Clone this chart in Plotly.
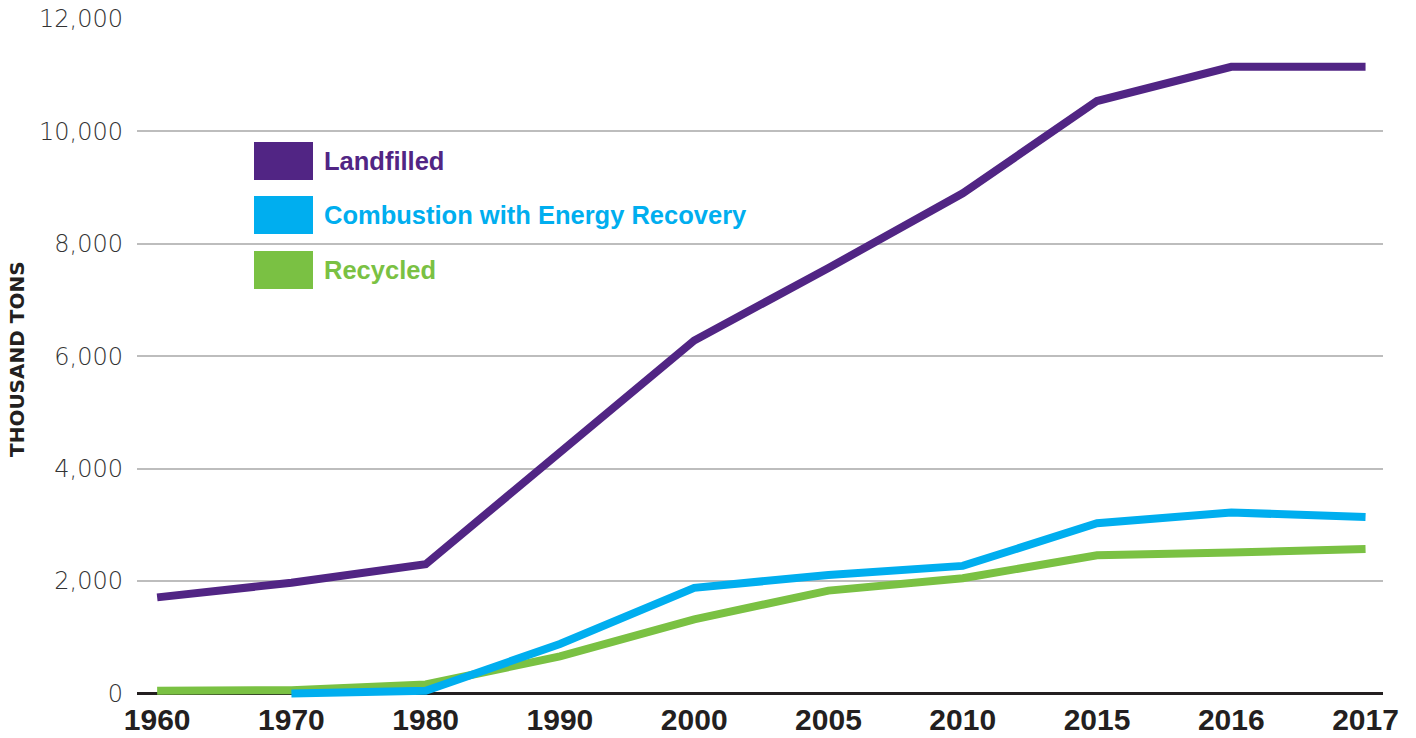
import plotly.graph_objects as go

years = ["1960", "1970", "1980", "1990", "2000", "2005", "2010", "2015", "2016", "2017"]
landfilled = [1710, 1970, 2300, 4270, 6280, 7570, 8900, 10540, 11150, 11150]
combustion = [None, 0, 50, 880, 1880, 2110, 2270, 3030, 3220, 3140]
recycled = [50, 60, 160, 660, 1320, 1830, 2050, 2460, 2510, 2570]

series_names = ["Landfilled", "Combustion with Energy Recovery", "Recycled"]
series_colors = ["#512584", "#00AEEF", "#7AC143"]
y_ticks = [0, 2000, 4000, 6000, 8000, 10000, 12000]

fig = go.Figure()
# draw order: recycled beneath combustion beneath landfilled
for name, vals, col in zip(series_names[::-1], [recycled, combustion, landfilled], series_colors[::-1]):
    fig.add_trace(go.Scatter(x=years, y=vals, mode="lines", name=name,
                             line=dict(color=col, width=8), showlegend=False,
                             connectgaps=False, hoverinfo="skip"))

W, H = 1416, 738
L, R, T, B = 137, 33, 19, 40
plot_w = W - L - R
plot_h = H - T - B

fig.update_layout(
    width=W, height=H,
    margin=dict(l=L, r=R, t=T, b=B),
    plot_bgcolor="white", paper_bgcolor="white",
    xaxis=dict(type="category", range=[-0.15, 9.13], showgrid=False, zeroline=False,
               showline=False, ticks="", ticklabelstandoff=1, automargin=False,
               tickfont=dict(family="Liberation Sans, Arial, sans-serif",
                             size=30, color="#231F20", weight="bold")),
    yaxis=dict(range=[-80, 12000], tickvals=y_ticks, tickformat=",d",
               showgrid=True, gridcolor="#BDBDBD", gridwidth=1.5,
               zeroline=True, zerolinecolor="#231F20", zerolinewidth=2.5,
               showline=False, ticks="", ticklabelstandoff=13, automargin=False,
               tickfont=dict(family="DejaVu Sans, sans-serif", size=24, color="#333333", weight=300)),
    font=dict(family="Liberation Sans, Arial, sans-serif"),
)

def px_x(px):
    return (px - L) / plot_w

def px_y(py):
    return 1 - (py - T) / plot_h

# legend as swatches + labels (paper coordinates)
row_centers = [161, 215, 270]
for name, col, cy in zip(series_names, series_colors, row_centers):
    fig.add_shape(type="rect", xref="paper", yref="paper",
                  x0=px_x(254), x1=px_x(313), y0=px_y(cy + 19), y1=px_y(cy - 19),
                  fillcolor=col, line=dict(width=0))
    fig.add_annotation(xref="paper", yref="paper", x=px_x(322), y=px_y(cy),
                       xanchor="left", yanchor="middle", showarrow=False, text=name,
                       font=dict(family="Liberation Sans, Arial, sans-serif", size=25.5,
                                 color=col, weight="bold"))

fig.add_annotation(xref="paper", yref="paper", x=px_x(17), y=px_y(359),
                   xanchor="center", yanchor="middle", showarrow=False, textangle=-90,
                   text="THOUSAND TONS",
                   font=dict(family="DejaVu Sans, sans-serif", size=20, color="#231F20", weight="bold"))

fig.write_html("out.html", config={"displayModeBar": False},
               post_script="document.body.style.margin='0px';document.body.style.overflow='hidden';")
